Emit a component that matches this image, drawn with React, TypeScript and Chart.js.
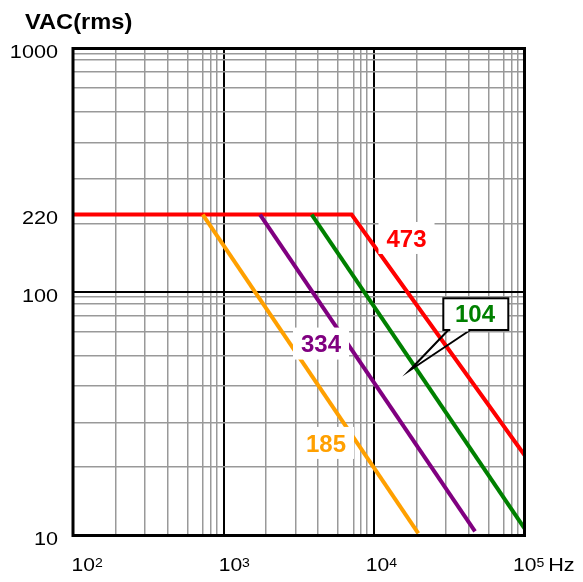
import React, { useEffect, useRef } from 'react';
import { Chart, registerables } from 'chart.js';

Chart.register(...registerables);

// ---------- data ----------
const axisTitle = 'VAC(rms)';
const xDecades = [100, 1000, 10000, 100000];
const yDecades = [10, 100, 1000];
// minor grid positions inside each decade, as drawn in the reference
const xMinorFactors = [1.92, 3.0, 4.24, 5.76, 7.3, 8.18, 8.98];
const yMinorFactors = [1.91, 2.91, 4.12, 5.48, 6.88, 8.0, 8.97, 9.53];

const xTickBases = ['10', '10', '10', '10'];
const xTickExponents = ['2', '3', '4', '5'];
const xUnit = 'Hz';

const ratedVoltage = 208; // drawn level of the 220 V line
const yTickValues = [10, 100, ratedVoltage, 1000];
const yTickLabels = ['10', '100', '220', '1000'];

const seriesNames = ['185', '334', '104', '473'];
const seriesColors = ['#FFA000', '#800080', '#008000', '#FF0000'];
const freq185 = [728, 19700];
const volt185 = [ratedVoltage, 10.2];
const freq334 = [1748, 46900];
const volt334 = [ratedVoltage, 10.4];
const freq104 = [3855, 100000];
const volt104 = [ratedVoltage, 10.7];
const freq473 = [100, 7100, 100000];
const volt473 = [ratedVoltage, ratedVoltage, 21.4];

// ---------- derived ----------
const xGridValues: number[] = [];
xDecades.slice(0, -1).forEach((d, i) => {
  if (i > 0) xGridValues.push(d);
  xMinorFactors.forEach((f) => xGridValues.push(d * f));
});
const yGridValues: number[] = [];
yDecades.slice(0, -1).forEach((d, i) => {
  if (i > 0) yGridValues.push(d);
  yMinorFactors.forEach((f) => yGridValues.push(d * f));
});
const isDecade = (v: number) => Math.abs(Math.log10(v) - Math.round(Math.log10(v))) < 1e-6;

const toPoints = (fs: number[], vs: number[]) => fs.map((f, i) => ({ x: f, y: vs[i] }));
const seriesData = [
  toPoints(freq185, volt185),
  toPoints(freq334, volt334),
  toPoints(freq104, volt104),
  toPoints(freq473, volt473),
];

// label anchors (data coordinates)
const labelAnchors = [
  { name: '185', x: 4797, y: 24.0 },
  { name: '334', x: 4446, y: 61.4 },
  { name: '473', x: 16440, y: 166.7 },
];
const calloutText = { name: '104', x: 46900, y: 82.0 };
const calloutTip = { x: 17170, y: 47.5 };

const FONT = '"Liberation Sans", Arial, sans-serif';
const STRETCH = 1.17;

function drawText(ctx: any, text: string, x: number, y: number, align: string, sx: number) {
  ctx.save();
  ctx.translate(x, y);
  ctx.scale(sx, 1);
  ctx.textAlign = align;
  ctx.fillText(text, 0, 0);
  ctx.restore();
}

const framePlugin = {
  id: 'frame',
  afterDatasetsDraw(chart: any) {
    const { ctx, chartArea } = chart;
    ctx.save();
    ctx.strokeStyle = '#000';
    ctx.lineWidth = 3;
    ctx.strokeRect(chartArea.left, chartArea.top, chartArea.right - chartArea.left, chartArea.bottom - chartArea.top);
    ctx.restore();
  },
};

const annotationPlugin = {
  id: 'annot',
  afterDatasetsDraw(chart: any) {
    const { ctx, scales } = chart;
    const xs = scales.x;
    const ys = scales.y;
    ctx.save();
    ctx.font = 'bold 24px ' + FONT;
    ctx.textAlign = 'center';
    ctx.textBaseline = 'alphabetic';
    labelAnchors.forEach((a) => {
      const i = seriesNames.indexOf(a.name);
      const cx = xs.getPixelForValue(a.x);
      const cy = ys.getPixelForValue(a.y);
      const w = ctx.measureText(a.name).width + 16;
      ctx.fillStyle = '#fff';
      ctx.fillRect(cx - w / 2, cy - 16, w, 32);
      ctx.fillStyle = seriesColors[i];
      ctx.fillText(a.name, cx, cy + 8.6);
    });
    // callout for 104
    const tx = xs.getPixelForValue(calloutText.x);
    const ty = ys.getPixelForValue(calloutText.y);
    const px = xs.getPixelForValue(calloutTip.x);
    const py = ys.getPixelForValue(calloutTip.y);
    const bl = tx - 31.7, br = tx + 33.3, bt = ty - 14.7, bb = ty + 17;
    ctx.fillStyle = '#fff';
    ctx.fillRect(bl, bt, br - bl, bb - bt);
    ctx.strokeStyle = '#000';
    ctx.lineWidth = 2;
    ctx.strokeRect(bl, bt, br - bl, bb - bt);
    const aL = bl + 5, aR = bl + 27;
    ctx.beginPath();
    ctx.moveTo(aL, bb);
    ctx.lineTo(px, py);
    ctx.lineTo(aR, bb);
    ctx.stroke();
    ctx.strokeStyle = '#fff';
    ctx.lineWidth = 3;
    ctx.beginPath();
    ctx.moveTo(aL + 2, bb);
    ctx.lineTo(aR - 2, bb);
    ctx.stroke();
    ctx.fillStyle = seriesColors[seriesNames.indexOf(calloutText.name)];
    ctx.fillText(calloutText.name, tx, ty + 8.6);
    ctx.restore();
  },
};

const textPlugin = {
  id: 'texts',
  afterDraw(chart: any) {
    const { ctx, chartArea, scales } = chart;
    const xs = scales.x;
    const ys = scales.y;
    ctx.save();
    ctx.fillStyle = '#000';
    ctx.textBaseline = 'alphabetic';
    ctx.font = 'bold 21.5px ' + FONT;
    drawText(ctx, axisTitle, 25, 28.5, 'left', 1.1);

    ctx.font = '18.5px ' + FONT;
    yTickValues.forEach((v, i) => {
      drawText(ctx, yTickLabels[i], chartArea.left - 15, ys.getPixelForValue(v) + 3 + 6.6, 'right', STRETCH);
    });

    const step = (xs.getPixelForValue(xDecades[xDecades.length - 1]) - xs.getPixelForValue(xDecades[0]) - 10) / (xDecades.length - 1);
    xDecades.forEach((d, i) => {
      const x0 = xs.getPixelForValue(xDecades[0]) - 1.5 + i * step;
      ctx.font = '18px ' + FONT;
      drawText(ctx, xTickBases[i], x0, 570.5, 'left', STRETCH);
      const w = ctx.measureText(xTickBases[i]).width * STRETCH;
      ctx.font = '12px ' + FONT;
      drawText(ctx, xTickExponents[i], x0 + w, 566.5, 'left', STRETCH);
      if (i === xDecades.length - 1) {
        const w2 = ctx.measureText(xTickExponents[i]).width * STRETCH;
        ctx.font = '18.5px ' + FONT;
        drawText(ctx, xUnit, x0 + w + w2 + 4, 570.5, 'left', STRETCH);
      }
    });
    ctx.restore();
  },
};

export default function App() {
  const ref = useRef<HTMLCanvasElement>(null);
  useEffect(() => {
    const canvas = ref.current;
    if (!canvas) return;
    const chart = new Chart(canvas, {
      type: 'line',
      data: {
        datasets: seriesData.map((d, i) => ({
          label: seriesNames[i],
          data: d,
          borderColor: seriesColors[i],
          backgroundColor: seriesColors[i],
          borderWidth: 4,
          pointRadius: 0,
          tension: 0,
          fill: false,
          borderCapStyle: 'butt',
          borderJoinStyle: 'miter',
        })),
      },
      options: {
        responsive: false,
        maintainAspectRatio: false,
        animation: false,
        events: [],
        layout: { padding: { left: 73, top: 48.5, right: 58.5, bottom: 46.5 } },
        plugins: {
          legend: { display: false },
          tooltip: { enabled: false },
          title: { display: false },
        },
        scales: {
          x: {
            type: 'logarithmic',
            min: 100,
            max: 100000,
            ticks: { display: false },
            border: { display: false },
            grid: {
              drawTicks: false,
              color: (c: any) => (isDecade(c.tick.value) ? '#000' : '#999'),
              lineWidth: (c: any) => (isDecade(c.tick.value) ? 2 : 1.5),
            },
            afterBuildTicks: (s: any) => {
              s.ticks = xGridValues.map((v) => ({ value: v }));
            },
          },
          y: {
            type: 'logarithmic',
            min: 10,
            max: 1000,
            ticks: { display: false },
            border: { display: false },
            grid: {
              drawTicks: false,
              color: (c: any) => (isDecade(c.tick.value) ? '#000' : '#999'),
              lineWidth: (c: any) => (isDecade(c.tick.value) ? 2 : 1.5),
            },
            afterBuildTicks: (s: any) => {
              s.ticks = yGridValues.map((v) => ({ value: v }));
            },
          },
        },
      } as any,
      plugins: [framePlugin, annotationPlugin, textPlugin],
    });
    return () => chart.destroy();
  }, []);
  return (
    <div style={{ position: 'fixed', left: 0, top: 0, width: 583, height: 582, background: '#fff' }}>
      <canvas ref={ref} width={583} height={582} style={{ display: 'block' }} />
    </div>
  );
}
